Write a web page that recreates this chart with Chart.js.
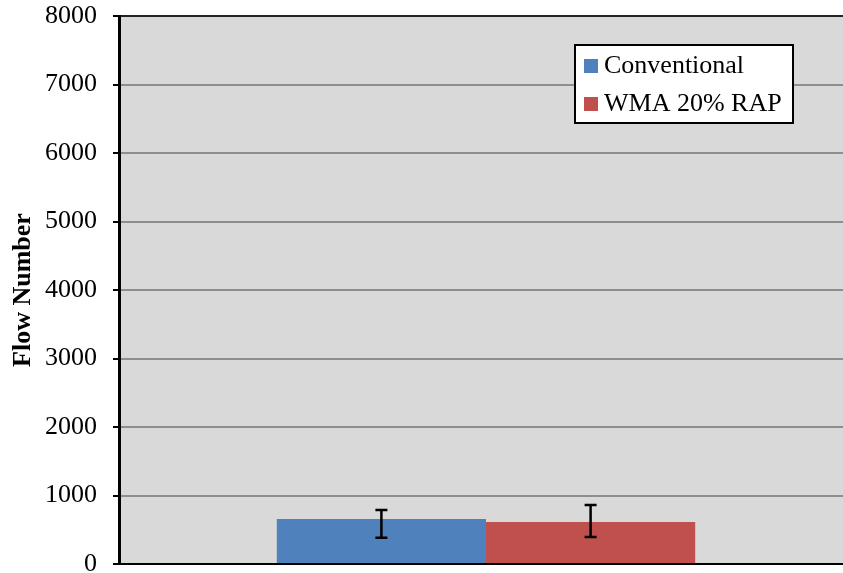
<!DOCTYPE html>
<html>
<head>
<meta charset="utf-8">
<script src="https://cdn.jsdelivr.net/npm/chart.js@4.4.0/dist/chart.umd.min.js"></script>
<style>
  html, body { margin: 0; padding: 0; background: #fff; overflow: hidden; }
  #wrap { width: 843px; height: 573px; overflow: hidden; }
</style>
</head>
<body>
<div id="wrap"><canvas id="grafico" width="853" height="573"></canvas></div>
<script>
const categorias = [''];
const seriesNomes = ['Conventional', 'WMA 20% RAP'];
const convencional = [657];
const convBaixo = [384];
const convAlto = [788];
const wma = [613];
const wmaBaixo = [394];
const wmaAlto = [861];
const yTicks = [0, 1000, 2000, 3000, 4000, 5000, 6000, 7000, 8000];

const fonte = "'Liberation Serif', 'Times New Roman', serif";

// fundo cinza da area do grafico + borda de cima
const fundoPlugin = {
    id: 'fundo',
    beforeDraw(chart) {
        const a = chart.chartArea;
        const ctx = chart.ctx;
        ctx.save();
        ctx.fillStyle = '#d9d9d9';
        ctx.fillRect(a.left, a.top, a.right - a.left, a.bottom - a.top);
        ctx.restore();
    },
    afterDraw(chart) {
        const a = chart.chartArea;
        const ctx = chart.ctx;
        ctx.save();
        ctx.strokeStyle = '#000';
        ctx.lineWidth = 1.5;
        ctx.beginPath();
        ctx.moveTo(a.left, a.top);
        ctx.lineTo(a.right, a.top);
        ctx.stroke();
        ctx.restore();
    }
};

// barras de erro
const erroPlugin = {
    id: 'erros',
    afterDatasetsDraw(chart) {
        const ctx = chart.ctx;
        const y = chart.scales.y;
        chart.data.datasets.forEach((ds, i) => {
            const meta = chart.getDatasetMeta(i);
            meta.data.forEach((bar, j) => {
                const y1 = y.getPixelForValue(ds.baixo[j]);
                const y2 = y.getPixelForValue(ds.alto[j]);
                ctx.save();
                ctx.strokeStyle = '#000';
                ctx.lineWidth = 2.5;
                ctx.beginPath();
                ctx.moveTo(bar.x, y1);
                ctx.lineTo(bar.x, y2);
                ctx.moveTo(bar.x - 6, y1);
                ctx.lineTo(bar.x + 6, y1);
                ctx.moveTo(bar.x - 6, y2);
                ctx.lineTo(bar.x + 6, y2);
                ctx.stroke();
                ctx.restore();
            });
        });
    }
};

// legenda dentro da area do grafico
const legendaPlugin = {
    id: 'legenda',
    afterDraw(chart) {
        const ctx = chart.ctx;
        const x0 = 575, y0 = 45, w = 218, h = 78;
        ctx.save();
        ctx.fillStyle = '#fff';
        ctx.fillRect(x0, y0, w, h);
        ctx.strokeStyle = '#000';
        ctx.lineWidth = 2;
        ctx.strokeRect(x0, y0, w, h);
        ctx.font = '26px ' + fonte;
        ctx.textBaseline = 'middle';
        chart.data.datasets.forEach((ds, i) => {
            const cy = y0 + 21 + i * 38;
            ctx.fillStyle = ds.backgroundColor;
            ctx.fillRect(x0 + 9, cy - 7, 14, 14);
            ctx.fillStyle = '#000';
            ctx.fillText(ds.label, x0 + 29, cy);
        });
        ctx.restore();
    }
};

const ctx = document.getElementById('grafico').getContext('2d');
const grafico = new Chart(ctx, {
    type: 'bar',
    data: {
        labels: categorias,
        datasets: [{
            label: seriesNomes[0],
            data: convencional,
            baixo: convBaixo,
            alto: convAlto,
            backgroundColor: '#4f81bd'
        }, {
            label: seriesNomes[1],
            data: wma,
            baixo: wmaBaixo,
            alto: wmaAlto,
            backgroundColor: '#c0504d'
        }]
    },
    options: {
        responsive: false,
        animation: false,
        categoryPercentage: 0.57,
        barPercentage: 1.0,
        layout: { padding: { top: 16, right: 0, left: 0, bottom: 0 } },
        plugins: {
            legend: { display: false },
            tooltip: { enabled: false }
        },
        scales: {
            x: {
                grid: { display: false },
                ticks: { display: false },
                border: { color: '#000', width: 2 },
                afterFit(s) { s.height = 9; }
            },
            y: {
                min: 0,
                max: 8000,
                afterBuildTicks(s) { s.ticks = yTicks.map(v => ({ value: v })); },
                ticks: {
                    color: '#000',
                    padding: 16,
                    font: { family: fonte, size: 26 },
                    callback: v => String(v)
                },
                grid: {
                    color: '#8e8e8e',
                    lineWidth: 2,
                    tickColor: '#000',
                    tickLength: 6
                },
                border: { color: '#000', width: 3 },
                title: {
                    display: true,
                    text: 'Flow Number',
                    color: '#000',
                    padding: { top: 8, bottom: 0 },
                    font: { family: fonte, size: 26, weight: 'bold' }
                },
                afterFit(s) {
                    s.width = 119;
                    s.paddingTop = 0;
                    s.paddingBottom = 0;
                }
            }
        }
    },
    plugins: [fundoPlugin, erroPlugin, legendaPlugin]
});
</script>
</body>
</html>
